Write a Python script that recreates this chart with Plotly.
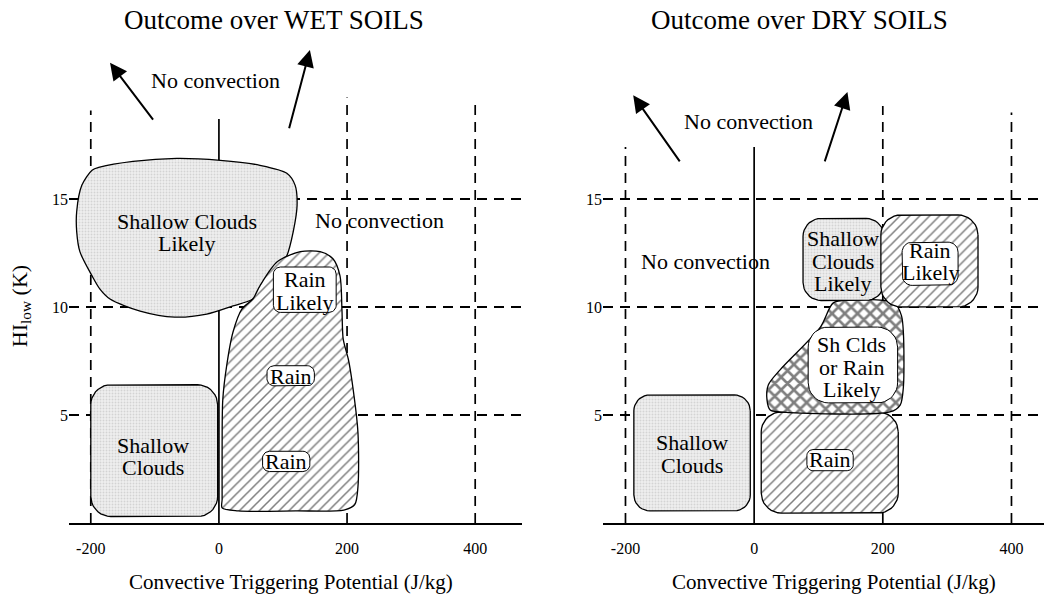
import numpy as np
import plotly.graph_objects as go

FONT = "Liberation Serif"

# ---------------- axes / ticks ----------------
x_ticks = [-200, 0, 200, 400]
x_tick_text = ["-200", "0", "200", "400"]
y_ticks = [5, 10, 15]
x_range_wet = [-234, 473]
x_range_dry = [-235, 463]
y_range = [0, 23.84]

# dashed guide lines (x position, top y) and solid zero line top
guide_x = [-200, 200, 400]
guide_top_wet = [19.1, 19.7, 19.5]
guide_top_dry = [17.4, 19.3, 19.0]
zero_top_wet = 18.7
zero_top_dry = 17.4

# ---------------- WET SOILS regions ----------------
wet_scl_x = [-198, -214, -222, -222, -217, -198, -186, -170, -123, -69, -19, 22, 53, 84,
             106, 116, 122, 119, 106, 64, 2, -66, -134, -186, -198]
wet_scl_y = [16.33, 15.63, 14.42, 13.49, 12.56, 11.44, 10.84, 10.37, 9.81, 9.53, 9.67, 10.05,
             10.37, 11.30, 12.37, 13.49, 14.70, 15.63, 16.19, 16.56, 16.79, 16.88, 16.74, 16.47, 16.33]

wet_rain_x = [30, 5, 5, 5, 6, 12, 22, 36, 53, 64, 91, 127, 158, 178, 189, 192, 194, 202, 208,
              217, 217, 212, 195, 120, 30]
wet_rain_y = [0.56, 0.7, 1.1, 3.5, 5.7, 7.26, 8.84, 9.91, 10.37, 10.98, 12.09, 12.56, 12.56,
              12.23, 11.44, 9.91, 8.51, 7.58, 6.51, 4.19, 1.67, 0.85, 0.6, 0.56, 0.56]

wet_sc_box = [-200, -2, 0.3, 6.4]          # x0, x1, y0, y1
wet_rl_label_box = [85, 183, 9.75, 11.85]
wet_rain1_box = [75, 149, 6.35, 7.28]
wet_rain2_box = [68, 142, 2.38, 3.32]

# ---------------- DRY SOILS regions ----------------
dry_sc_box = [-187, -6, 0.56, 5.93]
dry_rain_box = [11, 224, 0.46, 5.14]
dry_rain_label_box = [82, 154, 2.42, 3.4]
dry_scl_box = [76, 202, 10.3, 14.1]
dry_rl_box = [197, 348, 10.0, 14.26]
dry_rl_inner = [230, 317, 11.0, 13.0]
dry_mix_x = [123, 149, 196, 218, 229, 232, 232, 227, 211, 40, 25, 20, 22, 40, 103, 123]
dry_mix_y = [10.19, 10.32, 10.32, 10.2, 9.6, 8.8, 6.3, 5.46, 5.14, 5.14, 5.23, 5.69, 6.39,
             7.08, 9.07, 10.19]
dry_mix_inner = [84, 223, 5.56, 9.07]

# pixel scale (for rounded corners and line spacing)
PX_X = 983 * 0.4608 / 707
PX_Y = 515 / 23.84


def rounded_rect(b, r_px):
    x0, x1, y0, y1 = b
    rx, ry = r_px / PX_X, r_px / PX_Y
    xs, ys = [], []
    corners = [(x1 - rx, y1 - ry, 0), (x0 + rx, y1 - ry, 90),
               (x0 + rx, y0 + ry, 180), (x1 - rx, y0 + ry, 270)]
    for cx, cy, a0 in corners:
        for a in np.linspace(a0, a0 + 90, 10):
            t = np.radians(a)
            xs.append(cx + rx * np.cos(t))
            ys.append(cy + ry * np.sin(t))
    xs.append(xs[0]); ys.append(ys[0])
    return xs, ys


fig = go.Figure()

CLOUD = dict(fillpattern=dict(shape=".", bgcolor="#eeeeee", fgcolor="#b8b8b8", size=3, solidity=0.3))
HATCH = dict(fillpattern=dict(shape="/", bgcolor="white", fgcolor="black", size=7, solidity=0.22))
CROSS = dict(fillpattern=dict(shape="x", bgcolor="white", fgcolor="black", size=9, solidity=0.5))
WHITE = dict(fillcolor="white")


def add_guides(ax, ay, tops, zero_top):
    for gx, top in zip(guide_x, tops):
        fig.add_trace(go.Scatter(x=[gx, gx], y=[0, top], mode="lines", xaxis=ax, yaxis=ay,
                                 line=dict(color="black", width=1.7, dash="10px,7px"),
                                 hoverinfo="skip", showlegend=False))
    fig.add_trace(go.Scatter(x=[0, 0], y=[0, zero_top], mode="lines", xaxis=ax, yaxis=ay,
                             line=dict(color="black", width=1.7),
                             hoverinfo="skip", showlegend=False))


def add_region(xs, ys, ax, ay, style, spline=False, width=1.3):
    kw = dict(style)
    fig.add_trace(go.Scatter(x=xs, y=ys, mode="lines", fill="toself", xaxis=ax, yaxis=ay,
                             line=dict(color="black", width=width,
                                       shape="spline" if spline else "linear", smoothing=0.8),
                             hoverinfo="skip", showlegend=False, **kw))


# WET panel
add_guides("x", "y", guide_top_wet, zero_top_wet)
add_region(wet_scl_x, wet_scl_y, "x", "y", CLOUD, spline=True)
add_region(*rounded_rect(wet_sc_box, 20), "x", "y", CLOUD)
add_region(wet_rain_x, wet_rain_y, "x", "y", HATCH, spline=True)
for b in [wet_rl_label_box, wet_rain1_box, wet_rain2_box]:
    add_region(*rounded_rect(b, 7), "x", "y", WHITE, width=1)

# DRY panel
add_guides("x2", "y2", guide_top_dry, zero_top_dry)
add_region(*rounded_rect(dry_sc_box, 16), "x2", "y2", CLOUD)
add_region(*rounded_rect(dry_rain_box, 20), "x2", "y2", HATCH)
add_region(*rounded_rect(dry_rain_label_box, 6), "x2", "y2", WHITE, width=1)
add_region(dry_mix_x, dry_mix_y, "x2", "y2", CROSS, spline=True)
add_region(*rounded_rect(dry_mix_inner, 20), "x2", "y2", WHITE, width=1)
add_region(*rounded_rect(dry_scl_box, 18), "x2", "y2", CLOUD)
add_region(*rounded_rect(dry_rl_box, 20), "x2", "y2", HATCH)
add_region(*rounded_rect(dry_rl_inner, 10), "x2", "y2", WHITE, width=1)

annotations = []
LINE = 22.5 / PX_Y  # line spacing in y units


def text(x, y, lines, ax, size=22):
    n = len(lines)
    for i, s in enumerate(lines):
        yy = y + (n - 1) / 2 * LINE - i * LINE
        annotations.append(dict(x=x, y=yy, xref=ax, yref=ax.replace("x", "y"), text=s,
                                showarrow=False, font=dict(family=FONT, size=size, color="black"),
                                xanchor="center", yanchor="middle"))


def arrow(x_tip, y_tip, x_tail, y_tail, ax):
    annotations.append(dict(x=x_tip, y=y_tip, ax=x_tail, ay=y_tail, xref=ax, yref=ax.replace("x", "y"),
                            axref=ax, ayref=ax.replace("x", "y"), text="", showarrow=True,
                            arrowhead=2, arrowsize=1.7, arrowwidth=2, arrowcolor="black"))


# WET texts
text(86, 23.3, ["Outcome over WET SOILS"], "x", size=27)
text(-6, 20.5, ["No convection"], "x")
text(251, 14.0, ["No convection"], "x")
text(-50, 13.45, ["Shallow Clouds", "Likely"], "x")
text(134, 10.75, ["Rain", "Likely"], "x")
text(112, 6.8, ["Rain"], "x")
text(105, 2.85, ["Rain"], "x")
text(-103, 3.08, ["Shallow", "Clouds"], "x")
arrow(-170, 21.3, -101, 18.6, "x")
arrow(142, 21.9, 109, 18.2, "x")

# DRY texts
text(70, 23.3, ["Outcome over DRY SOILS"], "x2", size=27)
text(-8, 18.6, ["No convection"], "x2")
text(-75, 12.1, ["No convection"], "x2")
text(138, 12.12, ["Shallow", "Clouds", "Likely"], "x2")
text(274, 12.1, ["Rain", "Likely"], "x2")
text(152, 7.2, ["Sh Clds", "or Rain", "Likely"], "x2")
text(118, 2.92, ["Rain"], "x2")
text(-96, 3.2, ["Shallow", "Clouds"], "x2")
arrow(-188, 19.8, -114, 16.67, "x2")
arrow(145, 19.95, 109, 16.67, "x2")

# axis titles
for ax, xc in [("x", 112), ("x2", 124)]:
    annotations.append(dict(x=xc, y=-0.1146, xref=ax, yref="paper",
                            text="Convective Triggering Potential (J/kg)", showarrow=False,
                            font=dict(family=FONT, size=21, color="black"),
                            xanchor="center", yanchor="middle"))
annotations.append(dict(x=-0.0488, y=0.421, xref="paper", yref="paper",
                        text="HI<sub>low</sub> (K)", textangle=-90, showarrow=False,
                        font=dict(family=FONT, size=22, color="black"),
                        xanchor="center", yanchor="middle"))

xcommon = dict(tickvals=x_ticks, ticktext=x_tick_text, ticks="", showgrid=False, zeroline=False,
               showline=True, linecolor="black", linewidth=2,
               tickfont=dict(family=FONT, size=16, color="black"),
               ticklabelstandoff=10, fixedrange=True)
ycommon = dict(range=y_range, tickvals=y_ticks, ticks="", showgrid=True, gridcolor="black",
               gridwidth=1.7, griddash="10px,7px", zeroline=False, showline=False,
               tickfont=dict(family=FONT, size=16, color="black"), fixedrange=True)

# page body adds an 8px offset, so the figure is 8px smaller on each axis
fig.update_layout(
    width=1044, height=589,
    margin=dict(l=61, r=0, t=0, b=74),
    paper_bgcolor="white", plot_bgcolor="white",
    xaxis=dict(domain=[0, 0.4608], range=x_range_wet, anchor="y", **xcommon),
    xaxis2=dict(domain=[0.5432, 1.0], range=x_range_dry, anchor="y2", **xcommon),
    yaxis=dict(domain=[0, 1], anchor="x", **ycommon),
    yaxis2=dict(domain=[0, 1], anchor="x2", **ycommon),
    annotations=annotations,
    showlegend=False,
)

fig.write_html("out.html")
